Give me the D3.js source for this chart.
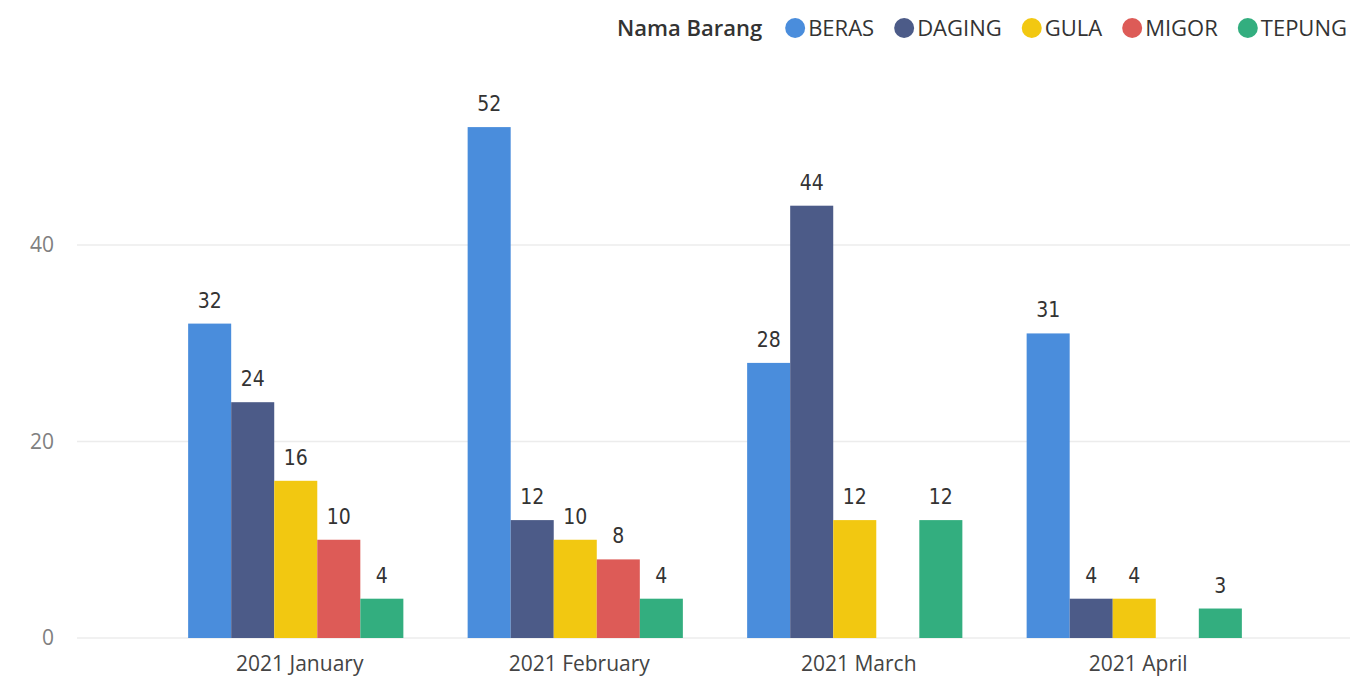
<!DOCTYPE html>
<html>
<head>
<meta charset="utf-8">
<script src="https://cdn.jsdelivr.net/npm/d3@7"></script>
<style>
  body { margin: 0; background: #fff; }
  svg { display: block; }
</style>
</head>
<body>
<div class="chart"></div>
<script>
const months = ["2021 January", "2021 February", "2021 March", "2021 April"];
const items = ["BERAS", "DAGING", "GULA", "MIGOR", "TEPUNG"];
const colors = ["#4a8ddc", "#4c5b88", "#f2c811", "#dd5b57", "#33ae7f"];
// values per item, one per month (null = no bar)
const beras = [32, 52, 28, 31];
const daging = [24, 12, 44, 4];
const gula = [16, 10, 12, 4];
const migor = [10, 8, null, null];
const tepung = [4, 4, 12, 3];
const yTicks = [0, 20, 40];

const series = [beras, daging, gula, migor, tepung];
const width = 1353, height = 676;

const svg = d3.select(".chart")
  .append("svg")
  .attr("width", width)
  .attr("height", height);

const y = d3.scaleLinear()
  .domain([0, 40])
  .range([638, 245]);

const x0 = d3.scaleBand()
  .domain(months)
  .range([156, 1274])
  .paddingInner(0.23)
  .paddingOuter(0.115);

const x1 = d3.scaleBand()
  .domain(items)
  .range([0, x0.bandwidth()]);

// gridlines
svg.append("g")
  .selectAll("line")
  .data(yTicks)
  .join("line")
  .attr("x1", 77)
  .attr("x2", 1350)
  .attr("y1", d => y(d))
  .attr("y2", d => y(d))
  .attr("stroke", "#ececec")
  .attr("stroke-width", 1.5);

// y axis labels
svg.append("g")
  .selectAll("text")
  .data(yTicks)
  .join("text")
  .attr("x", 54)
  .attr("y", d => y(d))
  .attr("dy", "0.35em")
  .attr("text-anchor", "end")
  .attr("font-family", "'Open Sans', sans-serif")
  .attr("font-size", 21)
  .attr("fill", "#808080")
  .text(d => d);

// bars
const rows = [];
months.forEach((m, i) => {
  items.forEach((it, j) => {
    if (series[j][i] != null) rows.push({ month: m, item: it, value: series[j][i], color: colors[j] });
  });
});

const bars = svg.append("g");
bars.selectAll("rect")
  .data(rows)
  .join("rect")
  .attr("x", d => x0(d.month) + x1(d.item))
  .attr("y", d => y(d.value))
  .attr("width", x1.bandwidth())
  .attr("height", d => y(0) - y(d.value))
  .attr("fill", d => d.color);

bars.selectAll("text")
  .data(rows)
  .join("text")
  .attr("x", d => x0(d.month) + x1(d.item) + x1.bandwidth() / 2)
  .attr("y", d => y(d.value) - 16)
  .attr("text-anchor", "middle")
  .attr("font-family", "'DejaVu Sans Condensed', 'Liberation Sans Narrow', sans-serif")
  .attr("font-size", 21)
  .attr("fill", "#333")
  .text(d => d.value);

// x axis labels
svg.append("g")
  .selectAll("text")
  .data(months)
  .join("text")
  .attr("x", d => x0(d) + x0.bandwidth() / 2 + 4)
  .attr("y", 671)
  .attr("text-anchor", "middle")
  .attr("font-family", "'Open Sans', sans-serif")
  .attr("font-size", 21)
  .attr("fill", "#444")
  .text(d => d);

// legend, right edge at ~1349
const legend = svg.append("g").attr("transform", "translate(617,28)");
const title = legend.append("text")
  .attr("x", 0)
  .attr("y", 0)
  .attr("dy", "0.35em")
  .attr("font-family", "'Open Sans', sans-serif")
  .attr("font-size", 22)
  .attr("font-weight", 600)
  .attr("fill", "#333")
  .text("Nama Barang");

let lx = title.node().getComputedTextLength() + 33;
items.forEach((it, j) => {
  legend.append("circle")
    .attr("cx", lx)
    .attr("cy", 0)
    .attr("r", 10)
    .attr("fill", colors[j]);
  const t = legend.append("text")
    .attr("x", lx + 13)
    .attr("y", 0)
    .attr("dy", "0.35em")
    .attr("font-family", "'Open Sans', sans-serif")
    .attr("font-size", 22)
    .attr("fill", "#333")
    .text(it);
  lx += 13 + t.node().getComputedTextLength() + 30;
});
</script>
</body>
</html>
